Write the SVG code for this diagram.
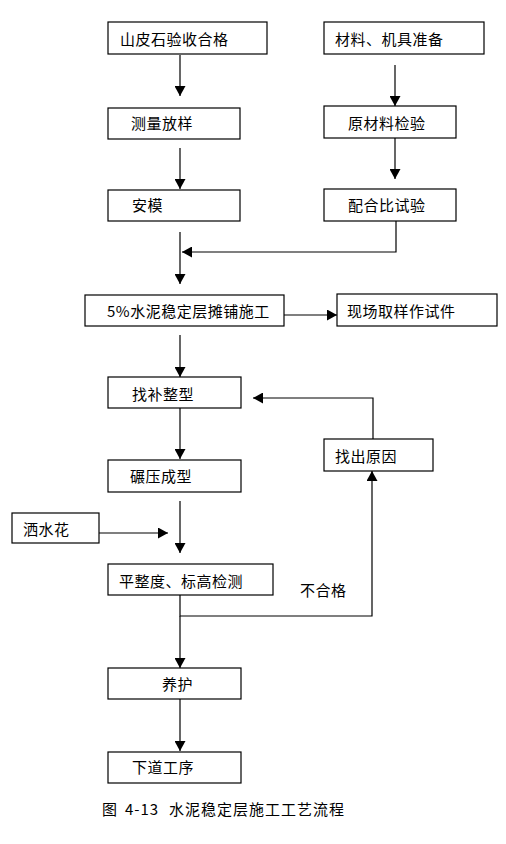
<svg xmlns="http://www.w3.org/2000/svg" width="506" height="844" viewBox="0 0 506 844">
<style>
.box{fill:#fff;stroke:#000;stroke-width:1.2}
.t{font-family:"Noto Sans CJK SC","Liberation Sans",sans-serif;font-size:15px;letter-spacing:0.5px;fill:#000}
.cap{letter-spacing:1px}
.c{fill:none;stroke:#000;stroke-width:1.2}
</style>
<defs>
<marker id="ah" viewBox="0 0 10 11" markerWidth="10" markerHeight="11" refX="10" refY="5.5" orient="auto" markerUnits="userSpaceOnUse" preserveAspectRatio="none">
<path d="M0,0 L10,5.5 L0,11 z" fill="#000"/>
</marker>
</defs>
<rect width="506" height="844" fill="#fff"/>
<g id="connectors">
<path class="c" d="M180,55 V96" marker-end="url(#ah)"/>
<path class="c" d="M180,148 V189" marker-end="url(#ah)"/>
<path class="c" d="M395,65 V106" marker-end="url(#ah)"/>
<path class="c" d="M395,138 V179" marker-end="url(#ah)"/>
<path class="c" d="M396,221 V252 H182" marker-end="url(#ah)"/>
<path class="c" d="M180,232 V284" marker-end="url(#ah)"/>
<path class="c" d="M284,315 H337" marker-end="url(#ah)"/>
<path class="c" d="M180,335 V377" marker-end="url(#ah)"/>
<path class="c" d="M373,440 V398 H253" marker-end="url(#ah)"/>
<path class="c" d="M180,408 V459" marker-end="url(#ah)"/>
<path class="c" d="M180,501 V553" marker-end="url(#ah)"/>
<path class="c" d="M97,533 H168" marker-end="url(#ah)"/>
<path class="c" d="M180,595 V616 H372 V471" marker-end="url(#ah)"/>
<path class="c" d="M180,616 V668" marker-end="url(#ah)"/>
<path class="c" d="M180,699 V751" marker-end="url(#ah)"/>
</g>
<g id="n1"><rect class="box" x="108" y="22" width="159" height="32"/><text class="t" x="120" y="45">山皮石验收合格</text></g>
<g id="n2"><rect class="box" x="324" y="22" width="160" height="32"/><text class="t" x="335" y="45">材料、机具准备</text></g>
<g id="n3"><rect class="box" x="108" y="108" width="132" height="31"/><text class="t" x="131" y="129">测量放样</text></g>
<g id="n4"><rect class="box" x="324" y="106" width="132" height="32"/><text class="t" x="348" y="129">原材料检验</text></g>
<g id="n5"><rect class="box" x="108" y="190" width="132" height="31"/><text class="t" x="132" y="211">安模</text></g>
<g id="n6"><rect class="box" x="324" y="189" width="132" height="32"/><text class="t" x="348" y="211">配合比试验</text></g>
<g id="n7"><rect class="box" x="85" y="295" width="199" height="31"/><text class="t" x="107" y="317">5%水泥稳定层摊铺施工</text></g>
<g id="n8"><rect class="box" x="337" y="294" width="160" height="32"/><text class="t" x="347" y="317">现场取样作试件</text></g>
<g id="n9"><rect class="box" x="108" y="377" width="133" height="31"/><text class="t" x="132" y="400">找补整型</text></g>
<g id="n10"><rect class="box" x="324" y="439" width="109" height="32"/><text class="t" x="335" y="462">找出原因</text></g>
<g id="n11"><rect class="box" x="108" y="460" width="133" height="32"/><text class="t" x="130" y="482">碾压成型</text></g>
<g id="n12"><rect class="box" x="12" y="513" width="87" height="30"/><text class="t" x="23" y="535">洒水花</text></g>
<g id="n13"><rect class="box" x="108" y="564" width="165" height="31"/><text class="t" x="119" y="587">平整度、标高检测</text></g>
<g id="label"><text class="t" x="300" y="596">不合格</text></g>
<g id="n14"><rect class="box" x="108" y="668" width="133" height="31"/><text class="t" x="162" y="690">养护</text></g>
<g id="n15"><rect class="box" x="108" y="752" width="133" height="31"/><text class="t" x="132" y="773">下道工序</text></g>
<g id="caption"><text class="t cap" y="815"><tspan x="102">图</tspan><tspan x="125">4-13</tspan><tspan x="169">水泥稳定层施工工艺流程</tspan></text></g>
</svg>
